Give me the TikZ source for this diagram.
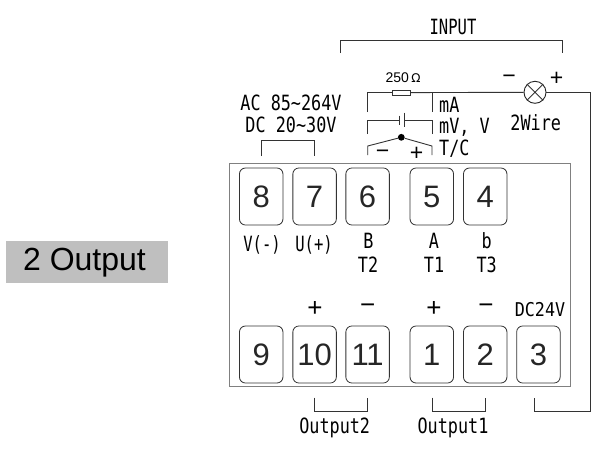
\documentclass[tikz,border=0pt]{standalone}
\usepackage{fontspec}
\setmainfont{Liberation Sans}
\newfontfamily\narrowa[FakeStretch=0.80]{DejaVu Sans Mono}
\newfontfamily\narrowb[FakeStretch=0.74]{DejaVu Sans Mono}
\newfontfamily\narrowc[FakeStretch=0.88]{DejaVu Sans Mono}
\tikzset{
  wire/.style={draw=black!80,line width=0.9pt},
  frame/.style={draw=black!50,line width=1pt},
  term/.style={draw=black!80,line width=0.8pt,rounded corners=6pt,minimum width=43.5pt,minimum height=57pt,inner sep=0pt,font=\fontsize{31}{31}\selectfont,text=black!85},
  lab/.style={inner sep=0pt,text=black,font=\narrowa\fontsize{21}{21}\selectfont},
  labn/.style={inner sep=0pt,text=black,font=\narrowb\fontsize{21}{21}\selectfont},
  sign/.style={inner sep=0pt,text=black,font=\fontsize{26}{26}\selectfont},
  signs/.style={inner sep=0pt,text=black,font=\fontsize{23}{23}\selectfont},
  pt/.style={inner sep=0pt,minimum size=0pt}
}
\begin{document}
\begin{tikzpicture}[x=1pt,y=-1pt]
\useasboundingbox (0,0) rectangle (597,450);
% title
\node[fill=black!25,minimum width=161.7pt,minimum height=41.7pt,inner sep=0pt] (title) at (86.8,261.8) {};
\node[inner sep=0pt,font=\fontsize{32}{32}\selectfont] (titletext) at (84.5,263) {2 Output};
% housing
\node[frame,minimum width=340.7pt,minimum height=223.3pt,inner sep=0pt] (housing) at (399.65,275.3) {};
% terminals
\node[term] (t8) at (261.2,196.5) {8};
\node[term] (t7) at (314.6,196.5) {7};
\node[term] (t6) at (367.6,196.5) {6};
\node[term] (t5) at (431.8,196.5) {5};
\node[term] (t4) at (485.2,196.5) {4};
\node[term] (t9) at (261.2,354.5) {9};
\node[term] (t10) at (314.6,354.5) {10};
\node[term] (t11) at (367.6,354.5) {11};
\node[term] (t1) at (431.8,354.5) {1};
\node[term] (t2) at (485.2,354.5) {2};
\node[term] (t3) at (538.4,354.5) {3};
% labels
\node[labn] (lv) at (262,245) {V(-)};
\node[labn] (lu) at (314,245) {U(+)};
\node[lab] (lb) at (368.5,241) {B};
\node[lab] (lt2) at (368,265) {T2};
\node[lab] (la) at (434,241) {A};
\node[lab] (lt1) at (434,265) {T1};
\node[lab] (lbb) at (486.7,241) {b};
\node[lab] (lt3) at (486.7,265) {T3};
\node[sign] (p10) at (315,309) {+};
\node[sign] (m11) at (367.7,309) {−};
\node[sign] (p1) at (434,309) {+};
\node[sign] (m2) at (486,309) {−};
\node[inner sep=0pt,font=\narrowc\fontsize{19}{19}\selectfont] (dc24) at (540,310) {DC24V};
\node[lab] (o2) at (334.7,428) {Output2};
\node[lab] (o1) at (453,428) {Output1};
\node[lab] (ac) at (291,103) {AC 85\char`\~264V};
\node[lab] (dc) at (291,125) {DC 20\char`\~30V};
\node[labn] (input) at (453,27) {INPUT};
\node[inner sep=0pt,font=\fontsize{14}{14}\selectfont] (ohm) at (403,78) {250\,{\fontspec{DejaVu Sans}\fontsize{12}{12}\selectfont Ω}};
\node[lab,anchor=west] (lma) at (439,105) {mA};
\node[lab,anchor=west] (lmv) at (439,127) {mV, V};
\node[lab,anchor=west] (ltc) at (439,149) {T/C};
\node[lab] (wire2) at (535.7,123) {2Wire};
\node[signs] (lm) at (509,79) {−};
\node[signs] (lp) at (556.7,79) {+};
\node[signs] (tm) at (382.7,154) {−};
\node[signs] (tp) at (416.7,154) {+};
% brackets
\coordinate (ia) at (340.7,53); \coordinate (ib) at (562,53);
\draw[wire] (ia) -- (ia |- 0,40) -- (ib |- 0,40) -- (ib);
\coordinate (pa) at (261.3,156); \coordinate (pb) at (314.7,156);
\draw[wire] (pa) -- (pa |- 0,140.7) -- (pb |- 0,140.7) -- (pb);
\coordinate (oa) at (314.7,397.7); \coordinate (ob) at (367.7,397.7);
\draw[wire] (oa) -- (oa |- 0,411) -- (ob |- 0,411) -- (ob);
\coordinate (oc) at (432.3,397.7); \coordinate (od) at (485.7,397.7);
\draw[wire] (oc) -- (oc |- 0,411) -- (od |- 0,411) -- (od);
% input circuit
\node[draw=black!80,line width=0.8pt,minimum width=18pt,minimum height=4.6pt,inner sep=0pt] (res) at (401.3,92.6) {};
\node[draw=black!85,line width=0.9pt,circle,minimum size=22pt,inner sep=0pt] (lamp) at (535,92.3) {};
\draw[wire] (lamp.45) -- (lamp.225) (lamp.135) -- (lamp.315);
\coordinate (mal) at (367.7,112); \coordinate (mar) at (432,112);
\coordinate (corner) at (590,92.3);
\coordinate (end3) at (534,398);
\draw[wire] (mal) -- (mal |- res) -- (res.west);
\draw[wire] (res.east) -- (lamp.west);
\draw[wire] (mar) -- (mar |- res);
\draw[wire] (lamp.east) -- (corner) -- (corner |- 0,411) -- (end3 |- 0,411) -- (end3);
% battery
\coordinate (bl) at (367.7,134); \coordinate (br) at (432,134);
\coordinate (p1a) at (399.3,120); \coordinate (p2a) at (404,120);
\draw[wire] (bl) -- (bl |- p1a) -- (p1a);
\draw[wire] (br) -- (br |- p2a) -- (p2a);
\draw[wire] (399.3,115.5) -- (399.3,125);
\draw[wire] (404,112.5) -- (404,127);
% thermocouple
\node[circle,fill=black,minimum size=6.8pt,inner sep=0pt] (junc) at (401.3,137.3) {};
\coordinate (tl) at (367.7,146); \coordinate (tr) at (432,146);
\draw[wire] (junc) -- (tl) -- (367.7,155);
\draw[wire] (junc) -- (tr) -- (432,155);
\end{tikzpicture}
\end{document}
